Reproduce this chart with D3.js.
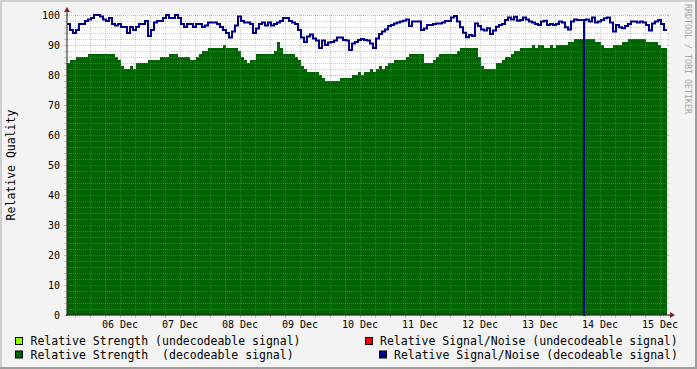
<!DOCTYPE html>
<html>
<head>
<meta charset="utf-8">
<script src="https://cdn.jsdelivr.net/npm/d3@7"></script>
<style>
  html, body { margin: 0; padding: 0; background: #f3f3f3; }
  svg { display: block; font-family: "DejaVu Sans Mono", monospace; }
</style>
</head>
<body>
<div id="chart"></div>
<script>

/* data: one sample every 72 minutes, starting 05 Dec 14:48 */
const startTime = Date.UTC(2008, 11, 5, 14, 48);
const sampleMinutes = 72;

const strengthDecoded = [
    84,85,85,86,86,86,86,87,87,87, 87,87,87,87,87,87,86,85,83,82,
    82,83,82,84,84,84,84,85,85,85, 85,86,86,86,87,87,87,86,86,86,
    86,85,85,86,87,88,88,89,89,89, 89,89,90,89,89,89,89,88,86,85,
    84,85,85,87,87,87,87,87,87,88, 91,89,87,87,87,87,86,85,83,82,
    81,81,81,81,80,79,78,78,78,78, 78,79,79,79,79,80,80,81,80,81,
    81,82,81,82,83,82,83,84,84,85, 85,85,85,86,87,87,87,87,87,84,
    84,84,85,86,87,87,87,87,87,87, 88,89,89,89,89,89,89,86,83,82,
    82,82,82,84,84,85,86,86,87,88, 88,89,89,89,89,90,89,90,90,89,
    89,90,89,90,90,90,90,91,91,92, 92,92,92,92,92,92,91,91,90,89,
    89,89,90,90,90,91,91,92,92,92, 92,92,92,91,91,91,91,90,89,89
];

const snDecoded = [
    97,95,94,95,97,97,98,98.5,99,100, 100,99.5,98.5,98,99,97,96.5,97,96,96,
    94,96,95,96,97,97,98,93,95,97.5, 98,98,99,100,99,99,100,99,97,96,
    97,97,96,97,97,96,96.5,97.5,97.5,97.5, 97,96,95,94,92.5,94.5,96.5,99.5,98,97.5,
    97.5,97,94,95.5,97,97.5,96.5,97.5,96.5,97, 97.5,98,99,99,98,97.5,97,95,92.5,91,
    92.8,93.5,92.2,91.5,89,91.5,90,90.8,91,91.5, 92.5,92.5,91.7,91.5,88.3,90.5,91,91.7,92,91.7,
    91.5,90.5,89,92.2,93.7,94.5,95.2,96.3,96.7,97.2, 97.5,97.8,98.1,98.5,96.3,97.8,97.8,97.8,95,95.5,
    96.7,96.7,97,97.2,97.2,97.5,98,98,99.2,99.7, 97.8,95.9,94.1,92.6,93.3,93,97.2,96.3,95.2,94.8,
    95.6,93.7,94.8,96.1,96.7,97,98.3,99.2,98.5,99.4, 98.1,98.3,99.2,98.5,97.8,97.5,97,96.7,97.8,98.1,
    96.7,97,96.7,97,97.8,97.5,95.9,95.2,97.8,98.5, 98.3,98.3,98.3,98.5,97.8,99.2,97.5,97.8,98.3,98.9,
    99.2,97.5,94.5,96.7,95.9,95.6,96.3,97,97.8,97.8, 97.5,97.8,97.5,96.7,94.8,97.2,97.8,98.3,97,95
];

/* hours after start where the signal/noise dropped to zero */
const snDropoutHours = [206.8];

const yTicks = [0, 10, 20, 30, 40, 50, 60, 70, 80, 90, 100];

const legendLabels = [
    "Relative Strength (undecodeable signal)",
    "Relative Strength  (decodeable signal)",
    "Relative Signal/Noise (undecodeable signal)",
    "Relative Signal/Noise (decodeable signal)"
];

const colors = {
    undecStrength: "#80ff00",
    decStrength: "#006400",
    undecSN: "#ff0000",
    decSN: "#000088",
    grid: "rgba(143,143,143,0.45)",
    mgrid: "rgba(222,79,79,0.45)",
    axis: "#1f1f1f",
    arrow: "#801f1f"
};

const width = 697;
const height = 369;
const plot = {left: 67, right: 667, top: 15, bottom: 315};

const svg = d3.select("#chart")
    .append("svg")
    .attr("width", width)
    .attr("height", height);

/* frame */
svg.append("rect").attr("width", width).attr("height", height).attr("fill", "#f3f3f3");
svg.append("rect").attr("x", 0).attr("y", 0).attr("width", width).attr("height", 2).attr("fill", "#cfcfcf");
svg.append("rect").attr("x", 0).attr("y", 0).attr("width", 2).attr("height", height).attr("fill", "#cfcfcf");
svg.append("rect").attr("x", width - 2).attr("y", 0).attr("width", 2).attr("height", height).attr("fill", "#9e9e9e");
svg.append("rect").attr("x", 0).attr("y", height - 2).attr("width", width).attr("height", 2).attr("fill", "#9e9e9e");

svg.append("rect")
    .attr("x", plot.left).attr("y", plot.top)
    .attr("width", plot.right - plot.left).attr("height", plot.bottom - plot.top)
    .attr("fill", "#ffffff");

/* scales */
const start = new Date(startTime);
const end = new Date(startTime + strengthDecoded.length * sampleMinutes * 60000);

const xScale = d3.scaleUtc()
    .domain([start, end])
    .range([plot.left, plot.right]);

const yScale = d3.scaleLinear()
    .domain([0, 100])
    .range([plot.bottom, plot.top]);

function sampleTime(i) {
    return new Date(startTime + i * sampleMinutes * 60000);
}

const strengthPoints = strengthDecoded.map(function(v, i) { return {t: sampleTime(i), v: v}; });
strengthPoints.push({t: end, v: strengthDecoded[strengthDecoded.length - 1]});

let snPoints = snDecoded.map(function(v, i) { return {t: sampleTime(i), v: v}; });
snPoints.push({t: end, v: snDecoded[snDecoded.length - 1]});

/* splice the dropouts into the step line */
snDropoutHours.forEach(function(h) {
    const td = new Date(startTime + h * 3600000);
    const k = d3.bisector(function(d) { return d.t; }).right(snPoints, td) - 1;
    const before = snPoints[k].v;
    snPoints.splice(k + 1, 0, {t: td, v: 0}, {t: new Date(+td + 180000), v: before});
});

/* area */
const area = d3.area()
    .x(function(d) { return xScale(d.t); })
    .y0(yScale(0))
    .y1(function(d) { return yScale(d.v); })
    .curve(d3.curveStepAfter);

svg.append("path")
    .datum(strengthPoints)
    .attr("d", area)
    .attr("fill", colors.decStrength)
    .attr("shape-rendering", "crispEdges");

/* grid */
const grid = svg.append("g");

const minorY = d3.range(0, 101, 2).filter(function(v) { return v % 10 !== 0; });

minorY.forEach(function(v) {
    const y = yScale(v) + 0.5;
    grid.append("line").attr("x1", plot.left).attr("x2", plot.right).attr("y1", y).attr("y2", y)
        .attr("stroke", colors.grid).attr("stroke-dasharray", "1,1");
    grid.append("line").attr("x1", plot.left - 3).attr("x2", plot.left).attr("y1", y).attr("y2", y)
        .attr("stroke", colors.grid);
    grid.append("line").attr("x1", plot.right).attr("x2", plot.right + 2).attr("y1", y).attr("y2", y)
        .attr("stroke", colors.grid);
});

yTicks.forEach(function(v) {
    const y = yScale(v) + 0.5;
    grid.append("line").attr("x1", plot.left).attr("x2", plot.right).attr("y1", y).attr("y2", y)
        .attr("stroke", colors.mgrid).attr("stroke-dasharray", "1,1");
    grid.append("line").attr("x1", plot.left - 3).attr("x2", plot.left).attr("y1", y).attr("y2", y)
        .attr("stroke", colors.mgrid);
    grid.append("line").attr("x1", plot.right).attr("x2", plot.right + 2).attr("y1", y).attr("y2", y)
        .attr("stroke", colors.mgrid);
});

const minorX = d3.utcHour.every(6).range(start, end).filter(function(d) { return d.getUTCHours() !== 0; });
const majorX = d3.utcDay.range(start, end);

minorX.forEach(function(d) {
    const x = Math.round(xScale(d)) + 0.5;
    grid.append("line").attr("x1", x).attr("x2", x).attr("y1", plot.top).attr("y2", plot.bottom)
        .attr("stroke", colors.grid).attr("stroke-dasharray", "1,1");
    grid.append("line").attr("x1", x).attr("x2", x).attr("y1", plot.bottom).attr("y2", plot.bottom + 3)
        .attr("stroke", colors.grid);
});

majorX.forEach(function(d) {
    const x = Math.round(xScale(d)) + 0.5;
    grid.append("line").attr("x1", x).attr("x2", x).attr("y1", plot.top).attr("y2", plot.bottom)
        .attr("stroke", colors.mgrid).attr("stroke-dasharray", "1,1");
    grid.append("line").attr("x1", x).attr("x2", x).attr("y1", plot.bottom).attr("y2", plot.bottom + 3)
        .attr("stroke", colors.mgrid);
});

/* signal / noise line */
const line = d3.line()
    .x(function(d) { return xScale(d.t); })
    .y(function(d) { return yScale(d.v); })
    .curve(d3.curveStepAfter);

svg.append("path")
    .datum(snPoints)
    .attr("d", line)
    .attr("fill", "none")
    .attr("stroke", colors.decSN)
    .attr("stroke-width", 2);

/* axes */
svg.append("line")
    .attr("x1", plot.left).attr("x2", plot.left)
    .attr("y1", plot.bottom + 1).attr("y2", plot.top - 5)
    .attr("stroke", colors.axis);

svg.append("line")
    .attr("x1", plot.left - 1).attr("x2", plot.right + 6)
    .attr("y1", plot.bottom).attr("y2", plot.bottom)
    .attr("stroke", colors.axis);

svg.append("path")
    .attr("d", `M${plot.left - 3},${plot.top - 3} L${plot.left + 3},${plot.top - 3} L${plot.left},${plot.top - 8} Z`)
    .attr("fill", colors.arrow);

svg.append("path")
    .attr("d", `M${plot.right + 3},${plot.bottom - 3} L${plot.right + 3},${plot.bottom + 3} L${plot.right + 8},${plot.bottom} Z`)
    .attr("fill", colors.arrow);

/* tick labels */
svg.append("g").selectAll("text")
    .data(yTicks)
    .enter()
    .append("text")
        .attr("x", 60)
        .attr("y", function(d) { return yScale(d); })
        .attr("dy", "0.36em")
        .attr("text-anchor", "end")
        .attr("font-size", "10px")
        .attr("fill", "#000")
        .text(function(d) { return d; });

const labelDays = majorX.map(function(d) { return d3.utcHour.offset(d, 12); })
    .filter(function(d) { return d < end; });

svg.append("g").selectAll("text")
    .data(labelDays)
    .enter()
    .append("text")
        .attr("x", function(d) { return xScale(d); })
        .attr("y", 328)
        .attr("text-anchor", "middle")
        .attr("font-size", "10px")
        .attr("fill", "#000")
        .text(function(d) { return d3.utcFormat("%d %b")(d); });

/* y label and signature */
svg.append("text")
    .attr("transform", "translate(15,165) rotate(-90)")
    .attr("text-anchor", "middle")
    .attr("font-size", "11.5px")
    .attr("fill", "#000")
    .text("Relative Quality");

svg.append("text")
    .attr("transform", "translate(684.5,4) rotate(90)")
    .attr("font-size", "8.3px")
    .attr("fill", "#a8a8a8")
    .text("RRDTOOL / TOBI OETIKER");

/* legend */
const legend = svg.append("g").attr("font-size", "11.5px");
const legendPos = [
    {bx: 15, tx: 30.5, y: 345, color: colors.undecStrength},
    {bx: 15, tx: 30.5, y: 358.5, color: colors.decStrength},
    {bx: 365, tx: 380, y: 345, color: colors.undecSN},
    {bx: 379, tx: 394, y: 358.5, color: colors.decSN}
];

legendLabels.forEach(function(label, i) {
    const p = legendPos[i];
    legend.append("rect")
        .attr("x", p.bx + 0.5).attr("y", p.y - 7.5)
        .attr("width", 7).attr("height", 7)
        .attr("fill", p.color)
        .attr("stroke", "#000");
    legend.append("text")
        .attr("x", p.tx).attr("y", p.y)
        .attr("fill", "#000")
        .attr("xml:space", "preserve")
        .style("white-space", "pre")
        .text(label);
});

</script>
</body>
</html>
